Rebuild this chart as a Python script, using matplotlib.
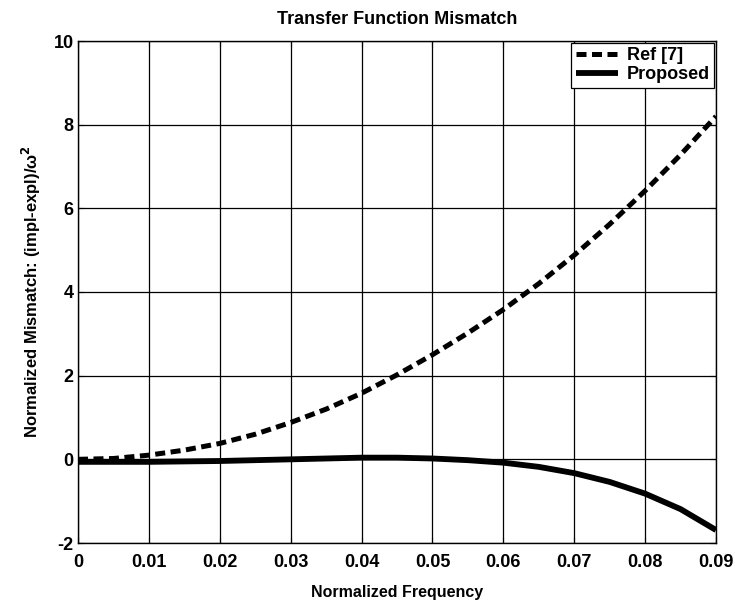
import matplotlib
matplotlib.use("Agg")
import matplotlib.pyplot as plt

# Normalized frequency samples
freq = [0.0, 0.005, 0.01, 0.015, 0.02, 0.025, 0.03, 0.035, 0.04, 0.045,
        0.05, 0.055, 0.06, 0.065, 0.07, 0.075, 0.08, 0.085, 0.09]

# Mismatch of the reference method [7]
ref7 = [0.0, 0.02, 0.1, 0.22, 0.38, 0.6, 0.88, 1.2, 1.58, 2.02,
        2.5, 3.02, 3.58, 4.2, 4.88, 5.62, 6.42, 7.28, 8.2]

# Mismatch of the proposed method
proposed = [-0.06, -0.06, -0.06, -0.05, -0.04, -0.02, 0.0, 0.02, 0.04, 0.04,
            0.02, -0.02, -0.08, -0.18, -0.33, -0.54, -0.82, -1.19, -1.69]

xticks = [0, 0.01, 0.02, 0.03, 0.04, 0.05, 0.06, 0.07, 0.08, 0.09]
xticklabels = ["0", "0.01", "0.02", "0.03", "0.04", "0.05", "0.06", "0.07", "0.08", "0.09"]
yticks = [-2, 0, 2, 4, 6, 8, 10]

plt.rcParams["font.family"] = ["Liberation Sans", "DejaVu Sans"]
plt.rcParams["font.weight"] = "bold"
plt.rcParams["axes.unicode_minus"] = False

W, H = 735, 603
fig = plt.figure(figsize=(W / 100, H / 100), dpi=100)
ax = fig.add_axes([78 / W, 1 - 543 / H, (716 - 78) / W, (543 - 41) / H])

ax.plot(freq, ref7, color="black", lw=3.6, linestyle=(0, (2.0, 1.1)),
        dash_capstyle="butt", label="Ref [7]")
ax.plot(freq, proposed, color="black", lw=4.2, solid_capstyle="butt",
        label="Proposed")

ax.set_xlim(0, 0.09)
ax.set_ylim(-2, 10)
ax.set_xticks(xticks)
ax.set_xticklabels(xticklabels)
ax.set_yticks(yticks)
ax.grid(True, color="black", lw=0.9, linestyle="-")
ax.set_axisbelow(True)
ax.tick_params(direction="in", length=4, width=0.8, labelsize=13,
               top=True, right=True)
ax.tick_params(axis="x", pad=8)
ax.tick_params(axis="y", pad=3)
for lab in ax.get_xticklabels() + ax.get_yticklabels():
    lab.set_fontweight("bold")
for sp in ax.spines.values():
    sp.set_linewidth(1.0)
    sp.set_color("black")

ax.set_title("Transfer Function Mismatch", fontsize=13, fontweight="bold", pad=12)
ax.set_xlabel("Normalized Frequency", fontsize=11.5, fontweight="bold", labelpad=10)
ax.set_ylabel("Normalized Mismatch: (impl-expl)/ω$^{\\mathbf{2}}$", fontsize=12,
              fontweight="bold", labelpad=8)

leg = ax.legend(loc="upper right", fontsize=13, frameon=True, fancybox=False,
                edgecolor="black", framealpha=1, borderaxespad=0.1,
                borderpad=0.25, labelspacing=0.1, handlelength=2.3,
                handletextpad=0.5)
leg.get_frame().set_linewidth(0.9)
for t in leg.get_texts():
    t.set_fontweight("bold")

fig.savefig("out.png", dpi=100)
